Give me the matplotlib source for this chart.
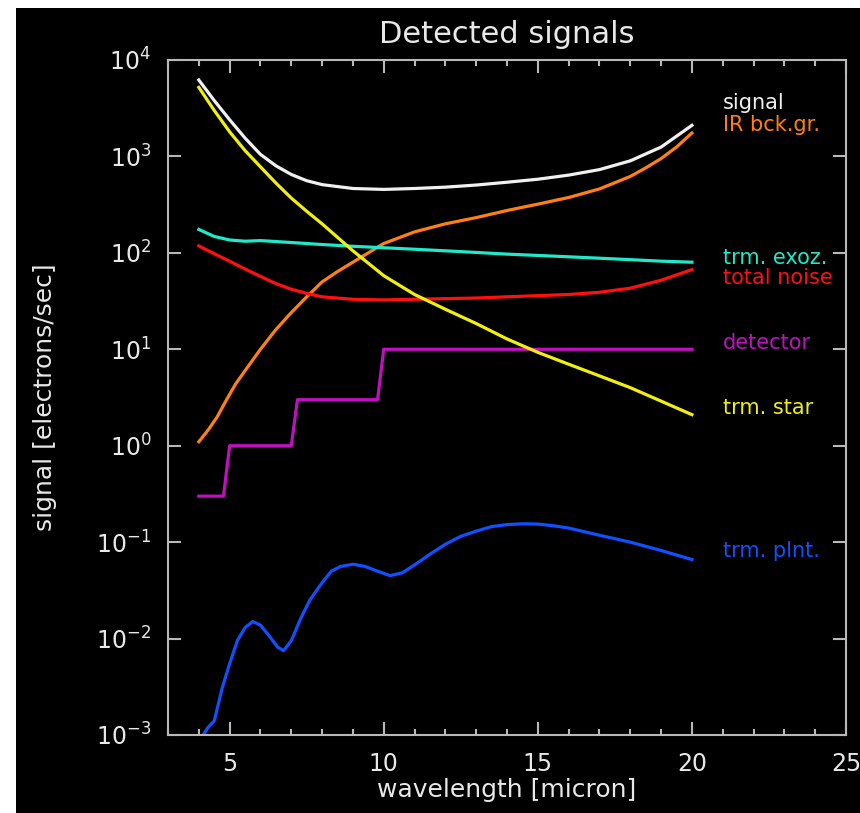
import numpy as np
import matplotlib
matplotlib.use('Agg')
import matplotlib.pyplot as plt
from matplotlib.patches import Rectangle
from matplotlib.ticker import MultipleLocator, NullLocator

# wavelength grid [micron]
wl = [4, 4.5, 5, 5.5, 6, 6.5, 7, 7.5, 8, 9, 10, 11, 12, 13, 14, 15, 16, 17, 18, 19, 20]

signal = [6200, 3800, 2400, 1550, 1050, 800, 650, 560, 510, 465, 455, 465, 480, 505, 540, 580, 640, 730, 900, 1250, 2100]
exoz = [175, 148, 136, 132, 134, 131, 128, 125, 122, 117, 113, 109, 105, 101, 97, 94, 91, 88, 85, 82, 80]
noise = [118, 98, 82, 68, 57, 48, 42, 38, 35, 33, 32.5, 33, 33.5, 34, 35, 36, 37, 39, 43, 52, 67]
star = [5200, 3000, 1800, 1150, 780, 530, 370, 270, 200, 105, 58, 37, 26, 18.5, 12.8, 9.3, 7.0, 5.3, 4.0, 2.9, 2.1]

bkgr_wl = [4, 4.3, 4.6, 4.9, 5.2, 5.5, 6, 6.5, 7, 7.5, 8, 8.5, 9, 9.5, 10, 11, 12, 13, 14,
           15, 16, 17, 18, 18.5, 19, 19.5, 20]
ir_bkgr = [1.1, 1.45, 2.0, 3.0, 4.4, 6.0, 10, 16, 24, 35, 50, 64, 80, 100, 125, 165, 200,
           232, 275, 320, 375, 460, 620, 760, 950, 1250, 1750]

det_wl = [4.0, 4.8, 5.0, 7.0, 7.2, 9.8, 10.0, 20.0]
detector = [0.3, 0.3, 1, 1, 3, 3, 10, 10]

plnt_wl = [4.0, 4.3, 4.5, 4.75, 5.0, 5.25, 5.5, 5.75, 6.0, 6.3, 6.55, 6.75, 7.0, 7.3, 7.6, 8.0,
           8.3, 8.6, 9.0, 9.4, 9.8, 10.2, 10.6, 11, 11.5, 12, 12.5, 13, 13.5, 14, 14.5, 15,
           15.5, 16, 17, 18, 19, 20]
plnt = [0.00085, 0.0012, 0.0014, 0.003, 0.0055, 0.0095, 0.013, 0.015, 0.0138, 0.0105, 0.0082,
        0.0075, 0.0095, 0.016, 0.025, 0.038, 0.05, 0.056, 0.059, 0.056, 0.05, 0.045, 0.048,
        0.058, 0.075, 0.095, 0.115, 0.13, 0.145, 0.152, 0.155, 0.154, 0.148, 0.14, 0.118,
        0.1, 0.082, 0.066]

names = ['signal', 'IR bck.gr.', 'trm. exoz.', 'total noise', 'detector', 'trm. star', 'trm. plnt.']
colors = ['#f0f0f0', '#ff8010', '#20e8c8', '#ff1010', '#c010c0', '#f0f010', '#1050ff']
label_y = [3600, 2100, 88, 55, 11.6, 2.45, 0.081]

fg = '#e8e8e8'
fig = plt.figure(figsize=(8.6, 8.13), dpi=100, facecolor='white')
fig.patches.append(Rectangle((16 / 860, 0), 1, 1 - 8 / 813, transform=fig.transFigure,
                             facecolor='black', edgecolor='none', zorder=-10))

ax = fig.add_axes([168 / 860, 1 - 735 / 813, 678 / 860, 675 / 813])
ax.set_facecolor('black')
ax.set_yscale('log')
ax.set_xlim(3, 25)
ax.set_ylim(1e-3, 1e4)

lw = 2.3
ax.plot(wl, signal, color=colors[0], lw=lw)
ax.plot(bkgr_wl, ir_bkgr, color=colors[1], lw=lw)
ax.plot(wl, exoz, color=colors[2], lw=lw)
ax.plot(wl, noise, color=colors[3], lw=lw)
ax.plot(det_wl, detector, color=colors[4], lw=lw)
ax.plot(wl, star, color=colors[5], lw=lw)
ax.plot(plnt_wl, plnt, color=colors[6], lw=lw)

for name, c, y in zip(names, colors, label_y):
    ax.text(21.0, y, name, color=c, fontsize=15, va='center', ha='left', clip_on=True)

for s in ax.spines.values():
    s.set_color('#b8b8b8')
    s.set_linewidth(1.5)

ax.xaxis.set_major_locator(MultipleLocator(5))
ax.xaxis.set_minor_locator(MultipleLocator(1))
ax.set_yticks([10.0 ** k for k in range(-3, 5)])
ax.yaxis.set_minor_locator(NullLocator())
ax.tick_params(which='both', direction='in', top=True, right=True, color='#b8b8b8',
               labelcolor=fg, labelsize=17, width=1.5)
ax.tick_params(which='major', length=9.5, pad=12)
ax.tick_params(which='minor', length=4.5)

ax.set_title('Detected signals', color=fg, fontsize=22, pad=12)
ax.set_xlabel('wavelength [micron]', color=fg, fontsize=18, labelpad=2)
ax.set_ylabel('signal [electrons/sec]', color=fg, fontsize=18, labelpad=28)

fig.savefig('out.png', dpi=100, facecolor=fig.get_facecolor())
